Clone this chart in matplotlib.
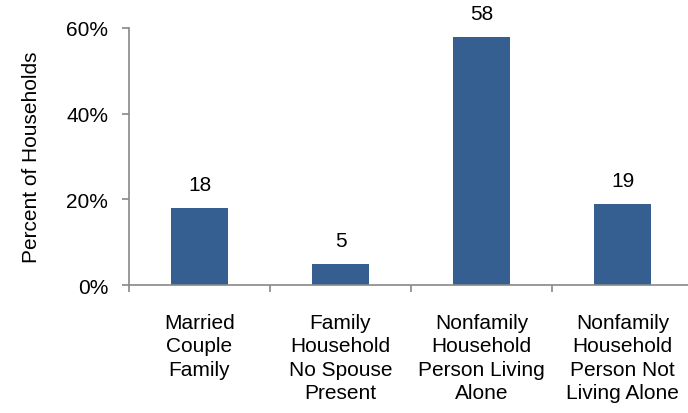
import numpy as np
import matplotlib
matplotlib.use('Agg')
from matplotlib import pyplot as plt

# data
categories = ['Married\nCouple\nFamily',
              'Family\nHousehold\nNo Spouse\nPresent',
              'Nonfamily\nHousehold\nPerson Living\nAlone',
              'Nonfamily\nHousehold\nPerson Not\nLiving Alone']
percents = [18, 5, 58, 19]
yticks = [0, 20, 40, 60]
ytick_labels = ['0%', '20%', '40%', '60%']

plt.rcParams['font.family'] = ['Liberation Sans', 'DejaVu Sans']

fig = plt.figure(figsize=(6.88, 4.14), dpi=100)
ax = fig.add_axes([0.1875, 0.309, 0.82, 0.621])

x = np.arange(len(percents))
bars = ax.bar(x, percents, width=0.4, color='#365F91')

for xi, v in zip(x, percents):
    ax.annotate(str(v), (xi, v), xytext=(0, 10), textcoords='offset points',
                ha='center', va='bottom', fontsize=15)

ax.set_xlim(-0.5, len(percents) - 0.5)
ax.set_ylim(0, 60)
ax.set_yticks(yticks)
ax.set_yticklabels(ytick_labels, fontsize=15)
ax.set_xticks(x)
ax.set_xticklabels(categories, fontsize=15, va='top', linespacing=1.3)
ax.tick_params(axis='x', length=0, pad=20)
ax.set_xticks(np.arange(len(percents) + 1) - 0.5, minor=True)
ax.tick_params(axis='x', which='minor', length=5, color='#888888', width=1.2)
ax.tick_params(axis='y', length=5, color='#888888', width=1.2, pad=10)

for s in ['top', 'right']:
    ax.spines[s].set_visible(False)
for s in ['left', 'bottom']:
    ax.spines[s].set_color('#888888')
    ax.spines[s].set_linewidth(1.2)

ax.set_ylabel('Percent of Households', fontsize=15, labelpad=18)

plt.savefig('out.png', dpi=100)
